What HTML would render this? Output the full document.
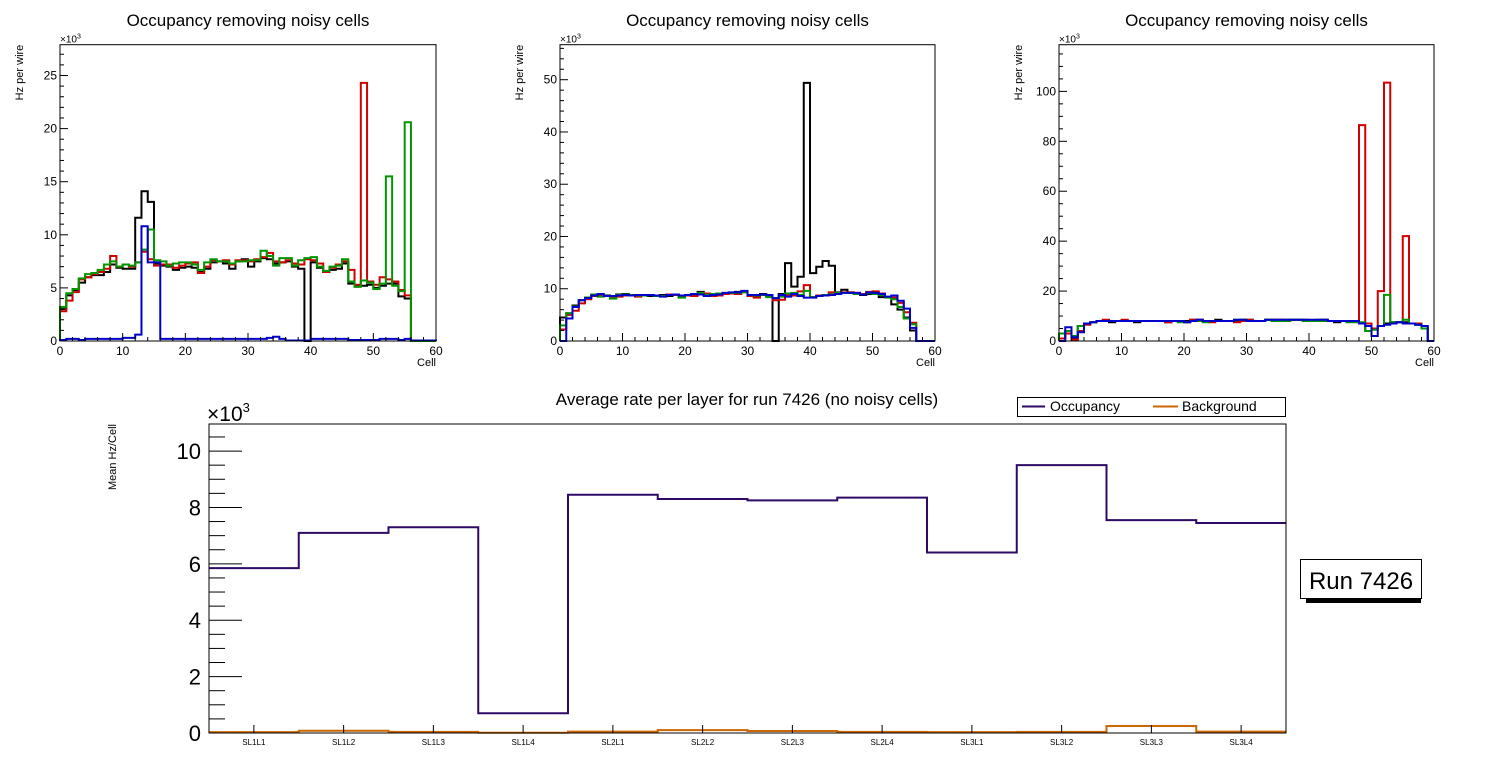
<!DOCTYPE html>
<html><head><meta charset="utf-8"><style>
body{margin:0;background:#fff;}
svg{display:block;font-family:"Liberation Sans",sans-serif;}
</style></head><body>
<svg id="s" width="1496" height="772"></svg>
<script>
const p1Black=[3.0,4.3,4.8,5.5,6.0,6.2,6.2,6.5,7.2,6.9,6.8,6.8,11.6,14.1,13.1,7.3,7.1,7.0,6.7,6.9,7.0,6.9,6.5,6.8,7.4,7.5,7.3,6.8,7.5,7.7,7.0,7.5,7.8,7.7,7.3,7.4,7.5,7.0,6.8,0,7.4,6.9,6.5,6.7,6.8,7.3,5.4,5.2,5.2,5.3,5.0,5.2,5.4,5.4,4.2,4.0,0,0,0,0];
const p1Red=[2.8,3.8,4.6,5.8,6.0,6.3,6.5,6.8,8.0,7.0,7.2,7.0,7.4,8.4,7.7,7.1,7.2,7.2,6.9,7.1,7.3,7.4,6.4,7.0,7.6,7.5,7.6,7.2,7.6,7.6,7.5,7.7,7.9,8.3,7.5,7.4,7.6,7.3,7.2,7.7,7.6,7.3,6.5,6.9,7.2,7.5,6.7,5.3,24.3,5.6,5.3,6.0,5.8,5.6,4.8,4.3,0,0,0,0];
const p1Green=[3.2,4.5,4.9,5.9,6.3,6.4,6.7,7.2,7.5,7.0,7.2,7.1,7.4,8.6,10.5,7.6,7.5,7.1,7.3,7.4,7.4,7.2,6.7,7.4,7.7,7.5,7.5,7.3,7.5,7.5,7.6,7.6,8.5,8.0,7.1,7.8,7.8,7.1,7.6,7.8,7.9,7.0,6.6,7.0,7.1,7.7,5.6,5.1,5.7,5.5,4.9,5.4,15.5,5.2,4.7,20.6,0,0,0,0];
const p1Blue=[0.1,0.2,0.2,0.1,0.2,0.2,0.2,0.2,0.2,0.2,0.3,0.3,0.6,10.8,7.4,7.4,0.2,0.2,0.2,0.2,0.2,0.2,0.2,0.2,0.2,0.2,0.2,0.2,0.2,0.2,0.2,0.2,0.2,0.3,0.4,0.2,0.05,0.05,0.05,0.05,0.2,0.2,0.2,0.2,0.2,0.2,0.1,0.1,0.1,0.1,0.1,0.2,0.2,0.2,0.1,0.2,0.05,0.05,0.05,0.05];
const p2Black=[4.5,5.3,6.8,7.8,8.3,8.8,8.8,8.7,8.5,8.9,9.0,8.8,8.7,8.8,8.6,8.6,8.8,8.6,8.9,8.5,8.8,9.0,9.4,8.8,8.6,9.0,9.1,9.2,9.4,9.4,8.7,8.5,9.0,8.6,0,9.0,14.9,10.4,12.3,49.4,13.0,14.2,15.3,14.4,9.3,9.8,9.3,9.0,8.8,9.0,9.2,8.4,8.4,7.0,6.0,4.5,2.0,0,0,0];
const p2Red=[2.2,5.0,5.8,7.2,8.0,8.6,8.8,8.6,8.3,8.5,8.7,8.7,8.5,8.8,8.8,8.7,8.6,8.9,8.8,8.4,8.7,8.6,9.2,9.1,8.6,8.7,9.0,9.1,9.0,9.5,8.6,8.3,8.9,8.6,7.8,7.9,8.7,8.7,9.5,10.7,8.4,8.7,8.8,9.3,9.2,9.3,9.3,9.2,9.0,9.4,9.5,9.1,8.4,8.3,7.3,5.5,3.5,0,0,0];
const p2Green=[3.0,5.3,6.6,7.8,8.3,8.9,8.5,8.6,8.1,8.8,8.9,8.8,8.7,8.7,8.8,8.6,8.6,8.8,8.9,8.3,8.8,9.0,9.2,8.8,9.0,9.1,9.2,9.2,9.2,9.3,8.8,8.7,8.8,8.4,8.2,8.5,9.1,9.2,8.8,9.6,8.4,8.6,8.8,8.9,9.2,9.2,9.2,9.0,8.9,9.2,9.0,8.8,8.3,8.0,6.5,4.3,3.2,0,0,0];
const p2Blue=[0,4.3,6.5,7.8,8.2,8.7,9.0,8.6,8.6,8.7,8.8,8.7,8.8,8.8,8.8,8.7,8.5,8.8,8.9,8.7,8.8,9.0,8.9,8.6,8.8,8.9,9.2,9.3,9.3,9.6,8.8,8.8,8.9,8.8,8.2,8.8,8.5,9.0,8.6,8.3,8.3,8.6,8.7,8.8,9.0,9.2,9.2,9.2,8.9,9.3,9.2,9.0,8.5,8.7,7.7,6.2,2.5,0,0,0];
const p3Black=[1,4,1,6,7,7.5,8,8,7.5,8,8,8,7.5,8,8,8,8,7.5,8,8,8,8.5,8.5,8,8,8.5,8,8,8,8.5,8.5,8,8,8.5,8.5,8.5,8.5,8.5,8.5,8,8,8,8.5,8,7.5,8,8,8,7,4,5,6,7,7.5,7.5,7.5,7,6.5,5,0];
const p3Red=[1,3,0.5,4,6.5,7.5,8,8.5,8,8,8.5,8,8,8,8,8,8,7.5,8,8,7.5,8.5,8.5,8,7.5,8,8,8,7.5,8,8.5,8,8,8.5,8.5,8.5,8,8.5,8.5,8.5,8,8.5,8.5,8,8,8,8,8,86.5,7,5,20,103.5,7.5,7.5,42,7,7,6,0];
const p3Green=[3,4,2,6,7,7.5,8,8,8,8,8,8,8,8,8,8,8,8,8,7.5,7.5,8,8,7.5,8,8,8,8,8.5,8.5,8,8,8,8.5,8,8,8,8.5,8.5,8,8,8,8,8,8,8,7.5,7.5,7.5,4,4.5,6,18.5,7.5,7.5,8.5,7,6.5,5,0];
const p3Blue=[0,5.5,1.5,3.5,7,7.5,8,8,8,8,8,8,8,8,8,8,8,8,8,8,7.5,8,8.5,8,8,8,8,8,8.5,8.5,8,8,8,8.5,8.5,8.5,8.5,8.5,8.5,8.5,8.5,8.5,8.5,8,8,8,8,8,7,6,2,6,6.5,7,7.5,7,7,6.5,6,0];
const layers=["SL1L1","SL1L2","SL1L3","SL1L4","SL2L1","SL2L2","SL2L3","SL2L4","SL3L1","SL3L2","SL3L3","SL3L4"];
const occupancy=[5.85,7.1,7.3,0.7,8.45,8.3,8.25,8.35,6.4,9.5,7.55,7.45];
const background=[0.03,0.08,0.04,0.01,0.05,0.1,0.07,0.04,0.03,0.04,0.25,0.05];
const topXTicks=[0,10,20,30,40,50,60];

const NS="http://www.w3.org/2000/svg";
const svg=document.getElementById('s');
function el(tag,attrs,parent,text){const e=document.createElementNS(NS,tag);for(const k in attrs)e.setAttribute(k,attrs[k]);if(text!==undefined)e.textContent=text;(parent||svg).appendChild(e);return e;}

const COLORS={black:"#000000",red:"#d00000",green:"#009600",blue:"#0000cc"};

function topPanel(name,x0,x1,yTop,yBot,ymax,major,minor,series){
  const g=el('g',{});
  
  
  const sx=v=>x0+(x1-x0)*v/60, sy=v=>yBot-(yBot-yTop)*v/ymax;
  const t=el('text',{x:(x0+x1)/2,y:26,'text-anchor':'middle','font-size':17},g,'Occupancy removing noisy cells');
  
  for(const s of series){
    let d='M'+sx(0)+','+sy(0);
    s.v.forEach((v,i)=>{d+=' L'+sx(i)+','+sy(v)+' L'+sx(i+1)+','+sy(v);});
    d+=' L'+sx(60)+','+sy(0);
    const p=el('path',{d:d,fill:'none',stroke:COLORS[s.c],'stroke-width':2},g);
    
  }
  el('rect',{x:x0,y:yTop,width:x1-x0,height:yBot-yTop,fill:'none',stroke:'#000','stroke-width':1},g);
  for(let v=0;v<=ymax+1e-9;v+=minor){const y=sy(v);const isM=Math.abs(v/major-Math.round(v/major))<1e-6;
    el('line',{x1:x0,x2:x0+(isM?8:4),y1:y,y2:y,stroke:'#000'},g);
    if(isM){const lb=el('text',{x:x0-3,y:y+4,'text-anchor':'end','font-size':12},g,String(Math.round(v)));
      }}
  for(let v=0;v<=60;v+=2){const x=sx(v);const isM=v%10==0;
    el('line',{x1:x,x2:x,y1:yBot,y2:yBot-(isM?8:4),stroke:'#000'},g);}
  topXTicks.forEach(v=>{const lb=el('text',{x:sx(v),y:yBot+14,'text-anchor':'middle','font-size':12},g,String(v));
    });
  const xt=el('text',{x:x1,y:yBot+25,'text-anchor':'end','font-size':11},g,'Cell');
  
  const yt=el('text',{x:0,y:0,'text-anchor':'end','font-size':11,transform:'translate('+(x0-37)+','+yTop+') rotate(-90)'},g,'Hz per wire');
  
  const ex=el('text',{x:x0,y:yTop-2,'font-size':10},g,'×10');
  el('tspan',{dy:-4,'font-size':7},ex,'3');
  
}
topPanel('panel-1',60,436,44.7,341,27.9,5,1,[{c:'black',v:p1Black},{c:'red',v:p1Red},{c:'green',v:p1Green},{c:'blue',v:p1Blue}]);
topPanel('panel-2',560,935,44.7,341,56.7,10,2,[{c:'black',v:p2Black},{c:'red',v:p2Red},{c:'green',v:p2Green},{c:'blue',v:p2Blue}]);
topPanel('panel-3',1059,1434,44.7,341,118.7,20,5,[{c:'black',v:p3Black},{c:'red',v:p3Red},{c:'green',v:p3Green},{c:'blue',v:p3Blue}]);

(function(){
  const x0=209,x1=1286,yTop=424,yBot=733,ymax=10.96;
  const n=layers.length;
  const g=el('g',{});
  
  const sx=i=>x0+(x1-x0)*i/n, sy=v=>yBot-(yBot-yTop)*v/ymax;
  const t=el('text',{x:747,y:405,'text-anchor':'middle','font-size':17},g,'Average rate per layer for run 7426 (no noisy cells)');
  
  function step(vals,color,name){
    let d='M'+sx(0)+','+sy(vals[0]);
    vals.forEach((v,i)=>{d+=' L'+sx(i)+','+sy(v)+' L'+sx(i+1)+','+sy(v);});
    const p=el('path',{d:d,fill:'none',stroke:color,'stroke-width':2},g);
    
  }
  step(background,'#cc6600','background-series');
  step(occupancy,'#2e0a66','occupancy-series');
  el('rect',{x:x0,y:yTop,width:x1-x0,height:yBot-yTop,fill:'none',stroke:'#000','stroke-width':1},g);
  for(let k=0;k*0.5<=ymax;k++){const v=k*0.5,y=sy(v),isM=k%4==0;
    el('line',{x1:x0,x2:x0+(isM?33:16),y1:y,y2:y,stroke:'#000'},g);
    if(isM){const lb=el('text',{x:x0-8,y:y+8,'text-anchor':'end','font-size':22},g,String(v));
      }}
  layers.forEach((L,i)=>{const x=(sx(i)+sx(i+1))/2;
    el('line',{x1:x,x2:x,y1:yBot,y2:yBot-8,stroke:'#000'},g);
    const lb=el('text',{x:x,y:yBot+12,'text-anchor':'middle','font-size':8},g,L);
    });
  const ex=el('text',{x:x0-2,y:yTop-3,'font-size':21},g,'×10');
  el('tspan',{dy:-9,'font-size':13},ex,'3');
  
  const yt=el('text',{x:0,y:0,'text-anchor':'end','font-size':11,transform:'translate(116,424) rotate(-90)'},g,'Mean Hz/Cell');
  
  const lg=el('g',{},g);
  
  el('rect',{x:1017.5,y:397.5,width:268,height:19,fill:'#fff',stroke:'#000'},lg);
  el('line',{x1:1022,x2:1045,y1:406.5,y2:406.5,stroke:'#2e0a66','stroke-width':2},lg);
  const l1=el('text',{x:1050,y:411,'font-size':14},lg,'Occupancy');
  
  el('line',{x1:1153,x2:1178,y1:406.5,y2:406.5,stroke:'#cc6600','stroke-width':2},lg);
  const l2=el('text',{x:1182,y:411,'font-size':14},lg,'Background');
  
  const rb=el('g',{},g);
  
  el('rect',{x:1300.5,y:559.5,width:121,height:39,fill:'#fff',stroke:'#000'},rb);
  el('rect',{x:1306,y:599,width:115,height:4,fill:'#000'},rb);
  el('text',{x:1361,y:589,'text-anchor':'middle','font-size':24},rb,'Run 7426');
})();
</script>
</body></html>
